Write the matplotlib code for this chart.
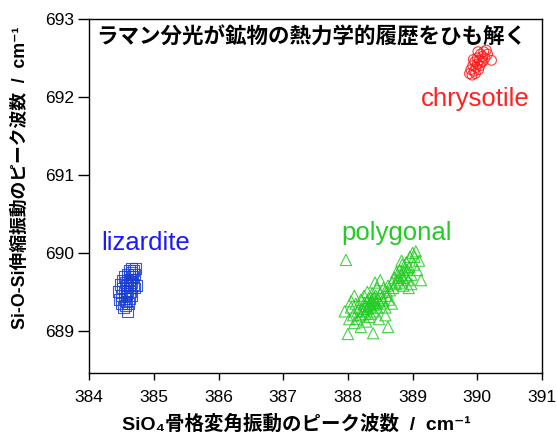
import matplotlib
matplotlib.use("Agg")
import matplotlib.pyplot as plt

# --- data (x: SiO4 bending peak, y: Si-O-Si stretching peak) ---
liz_x = [384.47, 384.50, 384.52, 384.55, 384.56, 384.58, 384.58, 384.60, 384.60, 384.62,
         384.62, 384.63, 384.64, 384.65, 384.66, 384.67, 384.68, 384.70, 384.72, 384.66,
         384.55, 384.52, 384.50, 384.53, 384.58, 384.60, 384.62, 384.65, 384.70, 384.73,
         384.48, 384.45, 384.57, 384.61, 384.64, 384.59, 384.63, 384.68, 384.54, 384.56]
liz_y = [689.40, 689.45, 689.55, 689.50, 689.62, 689.48, 689.58, 689.65, 689.52, 689.60,
         689.70, 689.55, 689.66, 689.75, 689.62, 689.70, 689.78, 689.72, 689.80, 689.80,
         689.70, 689.65, 689.35, 689.30, 689.38, 689.25, 689.42, 689.45, 689.55, 689.58,
         689.60, 689.50, 689.45, 689.35, 689.50, 689.72, 689.78, 689.60, 689.42, 689.33]

poly_x = [387.97, 388.00, 388.39, 388.62, 387.95, 388.02, 388.05, 388.08, 388.10, 388.12,
          388.15, 388.15, 388.18, 388.20, 388.20, 388.22, 388.25, 388.25, 388.27, 388.28,
          388.30, 388.30, 388.32, 388.33, 388.35, 388.35, 388.37, 388.38, 388.40, 388.40,
          388.42, 388.43, 388.45, 388.45, 388.47, 388.48, 388.50, 388.50, 388.52, 388.55,
          388.55, 388.58, 388.60, 388.60, 388.62, 388.63, 388.65, 388.68, 388.70, 388.72,
          388.74, 388.75, 388.77, 388.78, 388.80, 388.80, 388.82, 388.84, 388.85, 388.87,
          388.88, 388.90, 388.90, 388.92, 388.93, 388.95, 388.96, 388.98, 389.00, 389.02,
          389.03, 389.05, 389.07, 389.10, 388.98, 388.86, 388.50, 388.42, 388.10, 388.05,
          388.20, 388.28, 388.58, 388.68, 388.30, 388.35, 388.38, 388.24, 388.33, 388.40,
          388.44, 389.13, 388.94, 388.83]
poly_y = [689.91, 688.96, 688.97, 689.05, 689.25, 689.15, 689.30, 689.20, 689.10, 689.35,
          689.25, 689.15, 689.30, 689.40, 689.20, 689.28, 689.35, 689.45, 689.22, 689.32,
          689.38, 689.28, 689.42, 689.18, 689.35, 689.30, 689.40, 689.48, 689.33, 689.25,
          689.38, 689.45, 689.30, 689.55, 689.40, 689.15, 689.35, 689.48, 689.42, 689.38,
          689.55, 689.30, 689.50, 689.45, 689.58, 689.40, 689.52, 689.62, 689.55, 689.68,
          689.60, 689.75, 689.65, 689.70, 689.78, 689.62, 689.72, 689.85, 689.68, 689.75,
          689.80, 689.70, 689.88, 689.78, 689.65, 689.82, 689.95, 689.72, 690.00, 689.85,
          689.95, 690.02, 689.78, 689.90, 689.60, 689.58, 689.65, 689.62, 689.45, 689.38,
          689.05, 689.12, 689.20, 689.35, 689.50, 689.22, 689.36, 689.25, 689.33, 689.42,
          689.36, 689.65, 689.55, 689.90]

chry_x = [389.88, 389.90, 389.92, 389.93, 389.95, 389.96, 389.98, 390.00, 390.00, 390.02,
          390.03, 390.05, 390.06, 390.08, 390.10, 390.12, 390.14, 390.16, 390.22, 389.94,
          390.04, 389.97, 390.09, 390.01]
chry_y = [692.30, 692.35, 692.28, 692.40, 692.33, 692.45, 692.38, 692.42, 692.50, 692.35,
          692.47, 692.55, 692.44, 692.52, 692.58, 692.50, 692.60, 692.55, 692.47, 692.48,
          692.40, 692.30, 692.46, 692.58]

x_ticks = [384, 385, 386, 387, 388, 389, 390, 391]
y_ticks = [689, 690, 691, 692, 693]

title = "ラマン分光が鉱物の熱力学的履歴をひも解く"
xlabel = "SiO₄骨格変角振動のピーク波数  /  cm⁻¹"
ylabel = "Si-O-Si伸縮振動のピーク波数  /  cm⁻¹"

plt.rcParams['font.family'] = ['Liberation Sans', 'Noto Sans CJK JP', 'DejaVu Sans']

fig = plt.figure(figsize=(5.57, 4.34), dpi=100)
ax = fig.add_axes([0.16, 0.1406, 0.813, 0.8157])

blue = '#1a3fd0'
green = '#22cc22'
red = '#ff1a1a'

ax.scatter(liz_x, liz_y, marker='s', s=62, facecolors='none', edgecolors=blue,
           linewidths=0.8, alpha=0.85)
ax.scatter(poly_x, poly_y, marker='^', s=65, facecolors='none', edgecolors=green,
           linewidths=0.8, alpha=0.85)
ax.scatter(chry_x, chry_y, marker='o', s=50, facecolors='none', edgecolors=red,
           linewidths=0.8, alpha=0.85)

ax.text(384.88, 690.13, "lizardite", color='#1a1aff', fontsize=18.5, ha='center', va='center')
ax.text(388.76, 690.26, "polygonal", color=green, fontsize=18.5, ha='center', va='center')
ax.text(389.97, 691.97, "chrysotile", color='#ff2020', fontsize=18.5, ha='center', va='center')

ax.text(0.49, 0.949, title, transform=ax.transAxes, fontsize=15.5, fontweight='bold',
        ha='center', va='center', family=['Noto Sans CJK JP'])

ax.set_xlim(384, 391)
ax.set_ylim(688.46, 693)
ax.set_xticks(x_ticks)
ax.set_yticks(y_ticks)
ax.tick_params(direction='out', width=1, labelsize=12.5)
ax.tick_params(axis='x', length=5, pad=7)
ax.tick_params(axis='y', length=8, pad=3)

for sp in ax.spines.values():
    sp.set_linewidth(1)

ax.set_xlabel(xlabel, fontsize=14, fontweight='bold', va='center')
ax.set_ylabel(ylabel, fontsize=12.8, fontweight='bold', va='center')
ax.xaxis.set_label_coords(0.457, -0.145)
ax.yaxis.set_label_coords(-0.152, 0.552)

fig.savefig("out.png", dpi=100)
